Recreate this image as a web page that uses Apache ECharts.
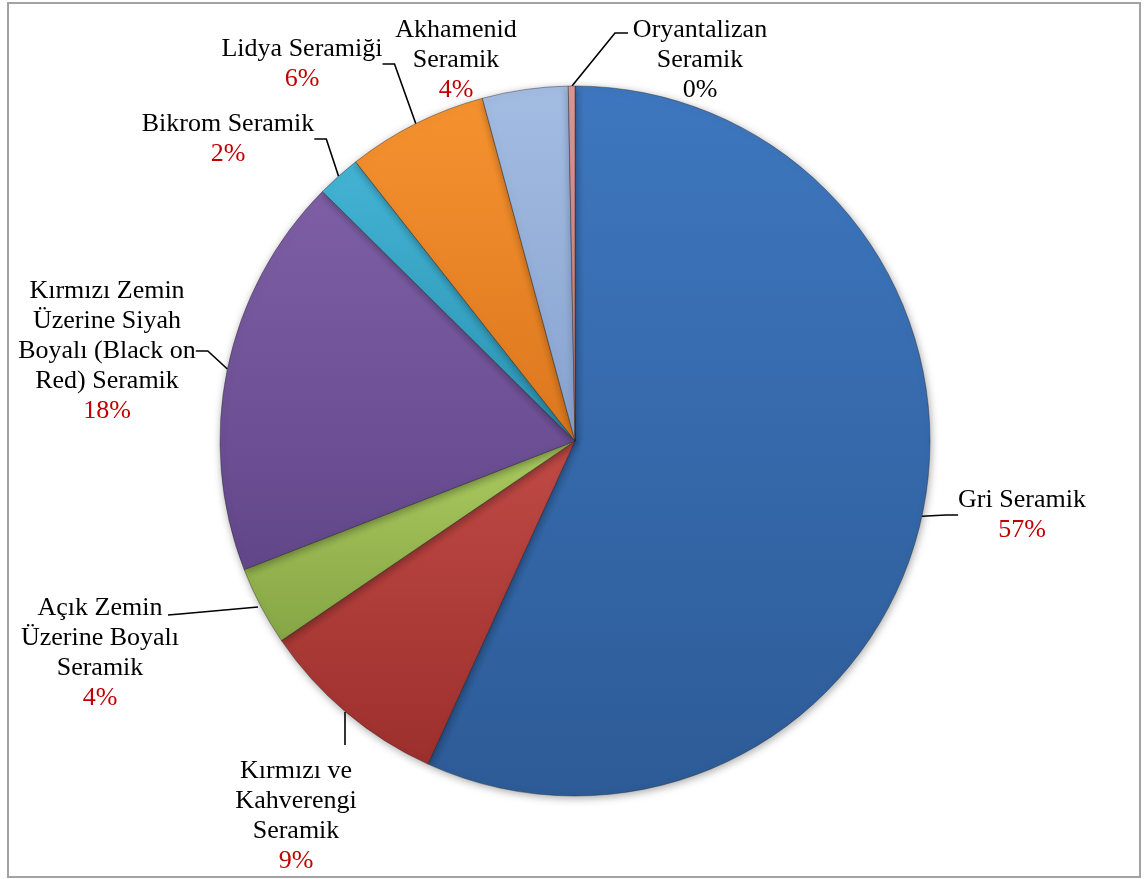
<!DOCTYPE html>
<html>
<head>
<meta charset="utf-8">
<title>Seramik Dağılımı</title>
<script src="https://cdn.jsdelivr.net/npm/echarts@6.0.0/dist/echarts.min.js"></script>
<style>
  html, body { margin: 0; padding: 0; background: #fff; }
  #chart { width: 1148px; height: 879px; }
</style>
</head>
<body>
<div id="chart"></div>
<script>
// Ware groups, clockwise from 12 o'clock
const categories = [
  'Gri Seramik',
  'Kırmızı ve\nKahverengi\nSeramik',
  'Açık Zemin\nÜzerine Boyalı\nSeramik',
  'Kırmızı Zemin\nÜzerine Siyah\nBoyalı (Black on\nRed) Seramik',
  'Bikrom Seramik',
  'Lidya Seramiği',
  'Akhamenid\nSeramik',
  'Oryantalizan\nSeramik'
];

// Share of each group (%)
const values = [56.8, 8.7, 3.6, 18.3, 2.0, 6.4, 3.9, 0.3];

// Slice colours: [top, bottom] of the vertical shading
const sliceColors = [
  ['#3e77bf', '#2d5b97'],
  ['#c04a46', '#9c2f2c'],
  ['#abcb60', '#86a545'],
  ['#7e5fa6', '#62468a'],
  ['#43b3d4', '#2c93b3'],
  ['#f5922f', '#dc771e'],
  ['#a3bce2', '#87a3cf'],
  ['#dc9896', '#c07b79']
];

// Percent text colour per slice (the 0% one is black in the original)
const pctStyle = ['red', 'red', 'red', 'red', 'red', 'red', 'red', 'black'];

// Where each label block sits (centre of the block)
const labelSpots = [
  [1022, 515], [296, 816], [100, 653], [107, 351],
  [228, 139], [302, 64], [456, 60], [700, 60]
];

// Leader lines that Excel bent differently from the automatic route
const guideOverrides = {
  1: [[345, 712], [345, 728], [345, 745]],
  2: [[258, 607], [180, 614], [168, 615]],
  7: [[572, 86], [615, 33], [628, 33]]
};
const guideHidden = [6];

const chart = echarts.init(document.getElementById('chart'));

const pieData = categories.map((name, i) => ({
  name: name,
  value: values[i],
  labelLine: { show: guideHidden.indexOf(i) < 0 },
  itemStyle: {
    color: new echarts.graphic.LinearGradient(0, 0, 0, 1, [
      { offset: 0, color: sliceColors[i][0] },
      { offset: 1, color: sliceColors[i][1] }
    ])
  }
}));

const serif = 'Liberation Serif, Times New Roman, serif';

const option = {
  animation: false,
  graphic: [{
    type: 'rect',
    silent: true,
    shape: { x: 8, y: 3, width: 1132, height: 874 },
    style: { fill: 'none', stroke: '#a3a3a3', lineWidth: 2 }
  }],
  series: [{
    type: 'pie',
    center: [575, 441],
    radius: 355,
    startAngle: 90,
    clockwise: true,
    percentPrecision: 0,
    avoidLabelOverlap: false,
    data: pieData,
    itemStyle: {
      borderColor: 'rgba(30,30,30,0.4)',
      borderWidth: 1,
      shadowBlur: 8,
      shadowColor: 'rgba(0,0,0,0.35)',
      shadowOffsetX: 1,
      shadowOffsetY: 2
    },
    label: {
      show: true,
      position: 'outside',
      fontFamily: serif,
      fontSize: 26,
      lineHeight: 30,
      color: '#000',
      formatter: p => `${p.name}\n{${pctStyle[p.dataIndex]}|${p.percent}%}`,
      rich: {
        red: { color: '#c00000', fontFamily: serif, fontSize: 26, lineHeight: 30 },
        black: { color: '#000', fontFamily: serif, fontSize: 26, lineHeight: 30 }
      }
    },
    labelLine: {
      show: true,
      length: 14,
      length2: 12,
      lineStyle: { color: '#000', width: 1.6 }
    },
    labelLayout: params => {
      const i = params.dataIndex;
      const out = {
        x: labelSpots[i][0],
        y: labelSpots[i][1],
        align: 'center',
        verticalAlign: 'middle'
      };
      if (guideOverrides[i]) out.labelLinePoints = guideOverrides[i];
      return out;
    },
    emphasis: { disabled: true }
  }]
};

chart.setOption(option);
</script>
</body>
</html>
